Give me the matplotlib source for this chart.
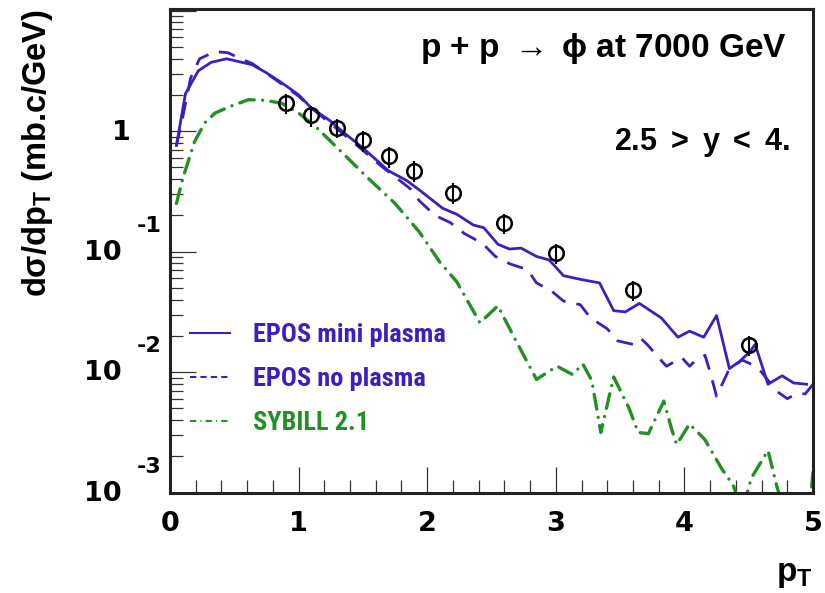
import matplotlib
matplotlib.use("Agg")
import matplotlib.pyplot as plt
import matplotlib.ticker as mticker
import matplotlib.transforms as mtransforms
from matplotlib import font_manager
from matplotlib.lines import Line2D

plt.rcParams['font.family'] = ['Liberation Sans', 'DejaVu Sans']
plt.rcParams['font.weight'] = 'bold'
plt.rcParams['mathtext.fontset'] = 'custom'
plt.rcParams['mathtext.rm'] = 'Liberation Sans'
plt.rcParams['mathtext.bf'] = 'Liberation Sans:bold'
plt.rcParams['mathtext.it'] = 'Liberation Sans:italic'

BLUE = '#3a20c0'
GREEN = '#229022'

# narrow face for the legend, if one is installed
installed = {f.name for f in font_manager.fontManager.ttflist}
narrow = [n for n in ['Liberation Sans Narrow', 'Arial Narrow', 'Roboto Condensed',
                      'Open Sans Condensed', 'DejaVu Sans Condensed'] if n in installed]
LEG_FONT = narrow[0] if narrow else 'Liberation Sans'
LEG_SIZE = 19 if narrow else 16.5

# EPOS with mini plasma
mini_pt = [0.05, 0.12, 0.22, 0.32, 0.44, 0.64, 0.74, 0.87, 1.00, 1.10, 1.24, 1.36,
           1.50, 1.70, 1.84, 1.94, 2.12, 2.23, 2.36, 2.44, 2.55, 2.64, 2.73, 2.85,
           2.95, 3.06, 3.19, 3.34, 3.45, 3.54, 3.65, 3.82, 3.95, 4.04, 4.15, 4.25,
           4.35, 4.43, 4.51, 4.55, 4.65, 4.76, 4.85, 4.95]
mini_val = [0.759, 2.04, 3.16, 3.72, 3.98, 3.55, 3.09, 2.51, 2.00, 1.55, 1.23, 0.955,
            0.724, 0.468, 0.389, 0.324, 0.229, 0.204, 0.166, 0.158, 0.115, 0.105, 0.107, 0.0912,
            0.0851, 0.0631, 0.0589, 0.0550, 0.0324, 0.0316, 0.0372, 0.0282, 0.0195, 0.0219, 0.0195, 0.0295,
            0.0107, 0.0123, 0.0148, 0.0170, 0.00794, 0.00933, 0.00813, 0.00794]

# EPOS without plasma
nopl_pt = [0.05, 0.10, 0.16, 0.23, 0.35, 0.45, 0.55, 0.64, 0.75, 0.87, 1.00, 1.10,
           1.25, 1.40, 1.50, 1.63, 1.75, 1.87, 1.94, 2.06, 2.18, 2.29, 2.43, 2.53,
           2.64, 2.78, 2.85, 2.97, 3.06, 3.19, 3.27, 3.40, 3.48, 3.60, 3.66, 3.71,
           3.80, 3.86, 3.98, 4.04, 4.08, 4.16, 4.20, 4.25, 4.35, 4.45, 4.53, 4.60,
           4.72, 4.80, 4.87, 4.94, 5.00]
nopl_val = [0.759, 1.32, 2.75, 3.98, 4.57, 4.47, 3.98, 3.63, 3.02, 2.45, 1.95, 1.55,
            1.15, 0.851, 0.692, 0.525, 0.417, 0.331, 0.263, 0.200, 0.174, 0.141, 0.117, 0.0912,
            0.0794, 0.0708, 0.0550, 0.0468, 0.0389, 0.0363, 0.0282, 0.0229, 0.0182, 0.0170, 0.0191, 0.0170,
            0.0132, 0.0112, 0.0132, 0.0112, 0.0123, 0.0138, 0.0100, 0.00631, 0.0107, 0.0126, 0.0115, 0.0100,
            0.00692, 0.00603, 0.00661, 0.00661, 0.00794]

# SYBILL 2.1
syb_pt = [0.05, 0.10, 0.19, 0.27, 0.35, 0.48, 0.61, 0.74, 0.87, 1.00, 1.14, 1.34,
          1.54, 1.75, 1.94, 2.10, 2.23, 2.41, 2.55, 2.68, 2.85, 3.01, 3.13, 3.21,
          3.28, 3.35, 3.45, 3.57, 3.64, 3.72, 3.84, 3.90, 3.94, 4.04, 4.16, 4.29,
          4.38, 4.45, 4.52, 4.65, 4.72, 4.85, 4.95, 5.00]
syb_val = [0.251, 0.407, 0.813, 1.17, 1.41, 1.62, 1.82, 1.80, 1.70, 1.41, 1.07, 0.661,
           0.407, 0.251, 0.145, 0.0813, 0.0562, 0.0257, 0.0355, 0.0191, 0.00871, 0.0112, 0.00955, 0.0117,
           0.00851, 0.00316, 0.00912, 0.00501, 0.00316, 0.00309, 0.00575, 0.00339, 0.00251, 0.00372, 0.00275, 0.00158,
           0.00115, 0.000708, 0.00132, 0.00224, 0.00112, 0.000398, 0.0004, 0.00148]

# measured phi spectrum
data_pt = [0.9, 1.1, 1.3, 1.5, 1.7, 1.9, 2.2, 2.6, 3.0, 3.6, 4.5]
data_val = [1.70, 1.35, 1.07, 0.836, 0.616, 0.470, 0.309, 0.174, 0.0977, 0.0479, 0.0167]
data_err = [0.32, 0.26, 0.20, 0.16, 0.12, 0.09, 0.06, 0.033, 0.019, 0.009, 0.0032]

decades = [-3, -2, -1, 0]

fig = plt.figure(figsize=(8.25, 5.93), dpi=100)
ax = fig.add_axes([170 / 825, 1 - 492.7 / 593, 643 / 825, 483.7 / 593])

ax.plot(mini_pt, mini_val, color=BLUE, lw=2.0, ls='-')
ax.plot(nopl_pt, nopl_val, color=BLUE, lw=2.0, ls=(0, (6, 4)))
ax.plot(syb_pt, syb_val, color=GREEN, lw=2.4, ls=(0, (4.5, 2.5, 0.01, 2.5)),
        dash_capstyle='round')
ax.errorbar(data_pt, data_val, yerr=data_err, fmt='o', mfc='none', mec='black',
            ecolor='black', mew=1.8, ms=10.5, elinewidth=1.5, capsize=0, zorder=5)

ax.set_yscale('log')
ax.set_xlim(0, 5)
ax.set_ylim(1e-3, 10.3)

ax.xaxis.set_major_locator(mticker.MultipleLocator(1))
ax.xaxis.set_minor_locator(mticker.MultipleLocator(0.2))
ax.yaxis.set_major_locator(mticker.LogLocator(base=10))
ax.yaxis.set_minor_locator(mticker.LogLocator(base=10, subs=range(2, 10)))
ax.yaxis.set_major_formatter(mticker.NullFormatter())
ax.yaxis.set_minor_formatter(mticker.NullFormatter())

ax.tick_params(which='both', direction='in', top=False, right=False,
               color='#333333', width=0.9)
ax.tick_params(which='major', length=19)
ax.tick_params(which='minor', length=9.5)
ax.tick_params(axis='x', which='major', labelsize=19.5, pad=13)
for lab in ax.get_xticklabels():
    lab.set_fontweight('bold')
    lab.set_family('DejaVu Sans')
for sp in ax.spines.values():
    sp.set_linewidth(2.2)
    sp.set_color('#222222')

# ROOT-style decade labels: "10" with exponent up and to the right
ytr = ax.get_yaxis_transform()
for d in decades:
    if d == 0:
        ax.text(-0.061, 10.0 ** d, '1', transform=mtransforms.offset_copy(ytr, fig, y=-2, units='dots'),
                ha='right', va='center', fontsize=19.5, fontweight='bold', family='DejaVu Sans')
    else:
        ax.text(-0.075, 10.0 ** d, '10', transform=mtransforms.offset_copy(ytr, fig, y=-1, units='dots'),
                ha='right', va='center', fontsize=19.5, fontweight='bold', family='DejaVu Sans')
        ax.text(-0.052, 10.0 ** d, str(d), transform=mtransforms.offset_copy(ytr, fig, y=26, units='dots'),
                ha='left', va='center', fontsize=16, fontweight='bold', family='DejaVu Sans')

ax.text(-0.206, 1.0, r'd$\mathrm{\sigma}$/dp$_\mathbf{T}$ (mb.c/GeV)', transform=ax.transAxes,
        rotation=90, ha='center', va='top', fontsize=23.5, fontweight='bold')
ax.text(1.0, -0.17, r'p$_\mathbf{T}$', transform=ax.transAxes,
        ha='right', va='center', fontsize=24, fontweight='bold')

ax.text(0.9596, 0.919, r'p + p $\mathrm{\rightarrow\;\phi}$ at 7000 GeV', transform=ax.transAxes,
        ha='right', va='center', fontsize=24, fontweight='bold')
ax.text(0.964, 0.723, r'2.5 $\mathrm{>}$ y $\mathrm{<}$ 4.', transform=ax.transAxes,
        ha='right', va='center', fontsize=22, fontweight='bold')

handles = [Line2D([], [], color=BLUE, lw=1.5, ls='-'),
           Line2D([], [], color=BLUE, lw=1.5, ls=(0, (3, 2))),
           Line2D([], [], color=GREEN, lw=1.5, ls=(0, (3, 2, 0.5, 2)))]
labels = ['EPOS mini plasma', 'EPOS no plasma', 'SYBILL 2.1']
leg = ax.legend(handles, labels, loc='upper left', bbox_to_anchor=(0.031, 0.35),
                frameon=False, handlelength=40 / (LEG_SIZE * 100 / 72),
                handletextpad=23 / (LEG_SIZE * 100 / 72), labelspacing=0.75,
                borderaxespad=0, borderpad=0,
                prop={'family': LEG_FONT, 'weight': 'bold', 'size': LEG_SIZE},
                labelcolor=[BLUE, BLUE, GREEN])

fig.savefig('out.png', dpi=100)
